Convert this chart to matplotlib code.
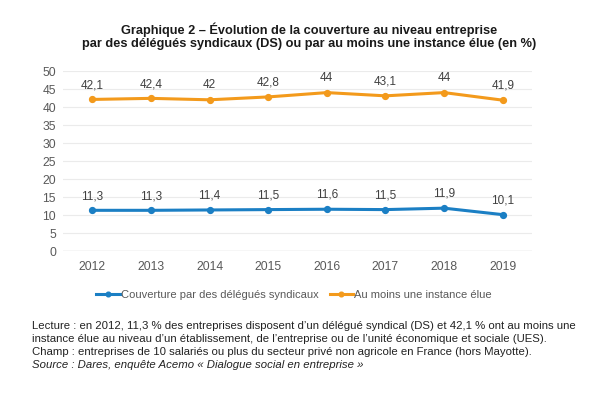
import matplotlib
matplotlib.use('Agg')
import matplotlib.pyplot as plt

plt.rcParams['font.family'] = ['Liberation Sans', 'DejaVu Sans']

years = ['2012', '2013', '2014', '2015', '2016', '2017', '2018', '2019']
ds_values = [11.3, 11.3, 11.4, 11.5, 11.6, 11.5, 11.9, 10.1]
instance_values = [42.1, 42.4, 42.0, 42.8, 44.0, 43.1, 44.0, 41.9]
ds_labels = ['11,3', '11,3', '11,4', '11,5', '11,6', '11,5', '11,9', '10,1']
instance_labels = ['42,1', '42,4', '42', '42,8', '44', '43,1', '44', '41,9']
yticks = [0, 5, 10, 15, 20, 25, 30, 35, 40, 45, 50]

blue = '#1b7fc4'
orange = '#f39a1c'
grey_txt = '#595959'

W, H = 604, 397
fig = plt.figure(figsize=(W / 100, H / 100), dpi=100)
# axes box in pixels: x 63..532, y 71..251
ax = fig.add_axes([63 / W, (H - 251) / H, 469 / W, 180 / H])

x = list(range(len(years)))
ax.plot(x, ds_values, color=blue, lw=2.2, marker='o', ms=4.2,
        label='Couverture par des délégués syndicaux')
ax.plot(x, instance_values, color=orange, lw=2.2, marker='o', ms=4.2,
        label='Au moins une instance élue')

# data labels above points
for xi, v, lab in zip(x, ds_values, ds_labels):
    ax.annotate(lab, (xi, v), xytext=(0, 10.3), textcoords='offset points',
                ha='center', va='center', fontsize=8.5, color='#404040')
for xi, v, lab in zip(x, instance_values, instance_labels):
    ax.annotate(lab, (xi, v), xytext=(0, 10.3), textcoords='offset points',
                ha='center', va='center', fontsize=8.5, color='#404040')

ax.set_xlim(-0.5, len(years) - 0.5)
ax.set_ylim(0, 50)
ax.set_yticks(yticks)
ax.set_xticks(x)
ax.set_xticklabels(years)
ax.tick_params(length=0, labelsize=8.7, labelcolor=grey_txt)
ax.tick_params(axis='x', pad=7)
ax.tick_params(axis='y', pad=5)
ax.grid(axis='y', color='#ebebeb', lw=0.8)
ax.set_axisbelow(True)
for s in ax.spines.values():
    s.set_visible(False)
ax.axhline(0, color='#d9d9d9', lw=1.0, zorder=0)

fig.text(309 / W, 1 - 30 / H, 'Graphique 2 – Évolution de la couverture au niveau entreprise',
         ha='center', va='center', fontsize=9.2, fontweight='bold', color='#1a1a1a')
fig.text(309 / W, 1 - 44 / H, 'par des délégués syndicaux (DS) ou par au moins une instance élue (en %)',
         ha='center', va='center', fontsize=9.2, fontweight='bold', color='#1a1a1a')

fig.legend(loc='center', bbox_to_anchor=(294 / W, 1 - 295 / H), ncol=2, frameon=False,
           fontsize=8, labelcolor=grey_txt, handlelength=2.1, handletextpad=0.1,
           columnspacing=1.0, markerscale=0.8, borderpad=0, borderaxespad=0)

notes_x = 32 / W
fig.text(notes_x, 1 - 326 / H,
         "Lecture : en 2012, 11,3 % des entreprises disposent d’un délégué syndical (DS) et 42,1 % ont au moins une",
         va='center', fontsize=8.2, color='#222222')
fig.text(notes_x, 1 - 339 / H,
         "instance élue au niveau d’un établissement, de l’entreprise ou de l’unité économique et sociale (UES).",
         va='center', fontsize=8.2, color='#222222')
fig.text(notes_x, 1 - 352 / H,
         "Champ : entreprises de 10 salariés ou plus du secteur privé non agricole en France (hors Mayotte).",
         va='center', fontsize=8.2, color='#222222')
fig.text(notes_x, 1 - 365 / H,
         "Source : Dares, enquête Acemo « Dialogue social en entreprise »",
         va='center', fontsize=8.2, color='#222222', style='italic')

fig.savefig('out.png', dpi=100, facecolor='white')
